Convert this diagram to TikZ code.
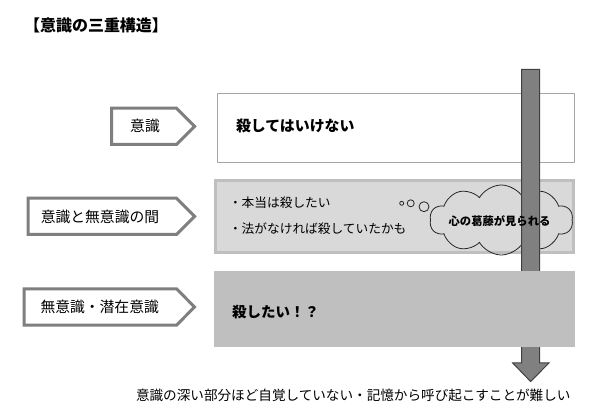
\documentclass[tikz,border=0pt]{standalone}
\usepackage{fontspec}
\setmainfont{Noto Sans CJK JP}
\usetikzlibrary{shapes.symbols}
\definecolor{shaftfill}{HTML}{808080}
\definecolor{shaftline}{HTML}{404040}
\definecolor{tagline}{HTML}{7F7F7F}
\definecolor{boxoneline}{HTML}{A6A6A6}
\definecolor{boxtwofill}{HTML}{D9D9D9}
\definecolor{boxtwoline}{HTML}{BFBFBF}
\definecolor{boxthreefill}{HTML}{BFBFBF}
\begin{document}
\begin{tikzpicture}[x=1pt,y=-1pt,
  txt/.style={inner sep=0pt,outer sep=0pt,text=black},
  tagshape/.style={draw=tagline,line width=3pt,fill=white,line join=miter},
  bubble/.style={circle,draw=black!85,line width=0.8pt,inner sep=0pt},
  layerbox/.style={rectangle,inner sep=0pt,outer sep=0pt}]
\useasboundingbox (0,0) rectangle (603,419);
\fill[white] (0,0) rectangle (603,419);

% title
\node[txt,anchor=west,font=\bfseries\fontsize{16}{18}\selectfont] (title) at (24,25) {【意識の三重構造】};

% layer boxes
\node[layerbox,draw=boxoneline,line width=1pt,fill=white,minimum width=357.5pt,minimum height=68.5pt] (box1) at (395.75,128.25) {};
\node[layerbox,draw=boxtwoline,line width=3pt,fill=boxtwofill,minimum width=358pt,minimum height=71.7pt] (box2) at (394.5,216.65) {};

% thought bubbles
\node[bubble,minimum size=4pt] (c1) at (401.7,203.3) {};
\node[bubble,minimum size=7pt] (c2) at (410.7,203.3) {};
\node[bubble,minimum size=10pt] (c3) at (424,206.7) {};
\node[cloud,cloud puffs=10,cloud puff arc=120,cloud ignores aspect,draw=black!85,line width=0.8pt,inner sep=0pt,
      minimum width=143pt,minimum height=70pt] (cloud) at (501.3,220) {};

% downward arrow shaft
\coordinate (sa) at (521.7,69.5);
\coordinate (sb) at (539.5,69.5);
\coordinate (tip) at (530.6,381.5);
\draw[fill=shaftfill,draw=shaftline,line width=1pt,line join=miter]
  (sa) -- (sb) -- (539.5,363) -- (549,363) -- (tip) -- (512.7,363) -- (521.7,363) -- cycle;

\node[layerbox,fill=boxthreefill,minimum width=361pt,minimum height=76.5pt] (box3) at (394.5,309.2) {};

% tags on the left
\coordinate (t1) at (111.5,108.2);
\draw[tagshape] (t1) -- (176.45,108.2) -- (194.6,126.35) -- (176.45,144.5) -- (111.5,144.5) -- cycle;
\coordinate (t2) at (28.2,198.2);
\draw[tagshape] (t2) -- (176.45,198.2) -- (194.6,216.35) -- (176.45,234.5) -- (28.2,234.5) -- cycle;
\coordinate (t3) at (24.2,288.8);
\draw[tagshape] (t3) -- (176.45,288.8) -- (194.6,307) -- (176.45,325.2) -- (24.2,325.2) -- cycle;

\node[txt,font=\fontsize{14.8}{16}\selectfont] (l1) at (145,126.3) {意識};
\node[txt,font=\fontsize{14.8}{16}\selectfont] (l2) at (100,216.5) {意識と無意識の間};
\node[txt,font=\fontsize{14.8}{16}\selectfont] (l3) at (99.7,306.8) {無意識・潜在意識};

% box texts
\node[txt,anchor=west,font=\bfseries\fontsize{14.9}{16}\selectfont] (m1) at (236,125.4) {殺してはいけない};
\node[txt,anchor=west,font=\fontsize{12.7}{14}\selectfont] (m2a) at (229,202.5) {・本当は殺したい};
\node[txt,anchor=west,font=\fontsize{12.7}{14}\selectfont] (m2b) at (229,228.5) {・法がなければ殺していたかも};
\node[txt,font=\bfseries\fontsize{11.3}{13}\selectfont] (ct) at (499.5,220.7) {心の葛藤が見られる};
\node[txt,anchor=west,font=\bfseries\fontsize{14.5}{16}\selectfont] (m3) at (232,311.8) {殺したい！？};

% bottom note
\node[txt,anchor=west,font=\fontsize{13.6}{15}\selectfont] (note) at (136,395) {意識の深い部分ほど自覚していない・記憶から呼び起こすことが難しい};
\end{tikzpicture}
\end{document}
